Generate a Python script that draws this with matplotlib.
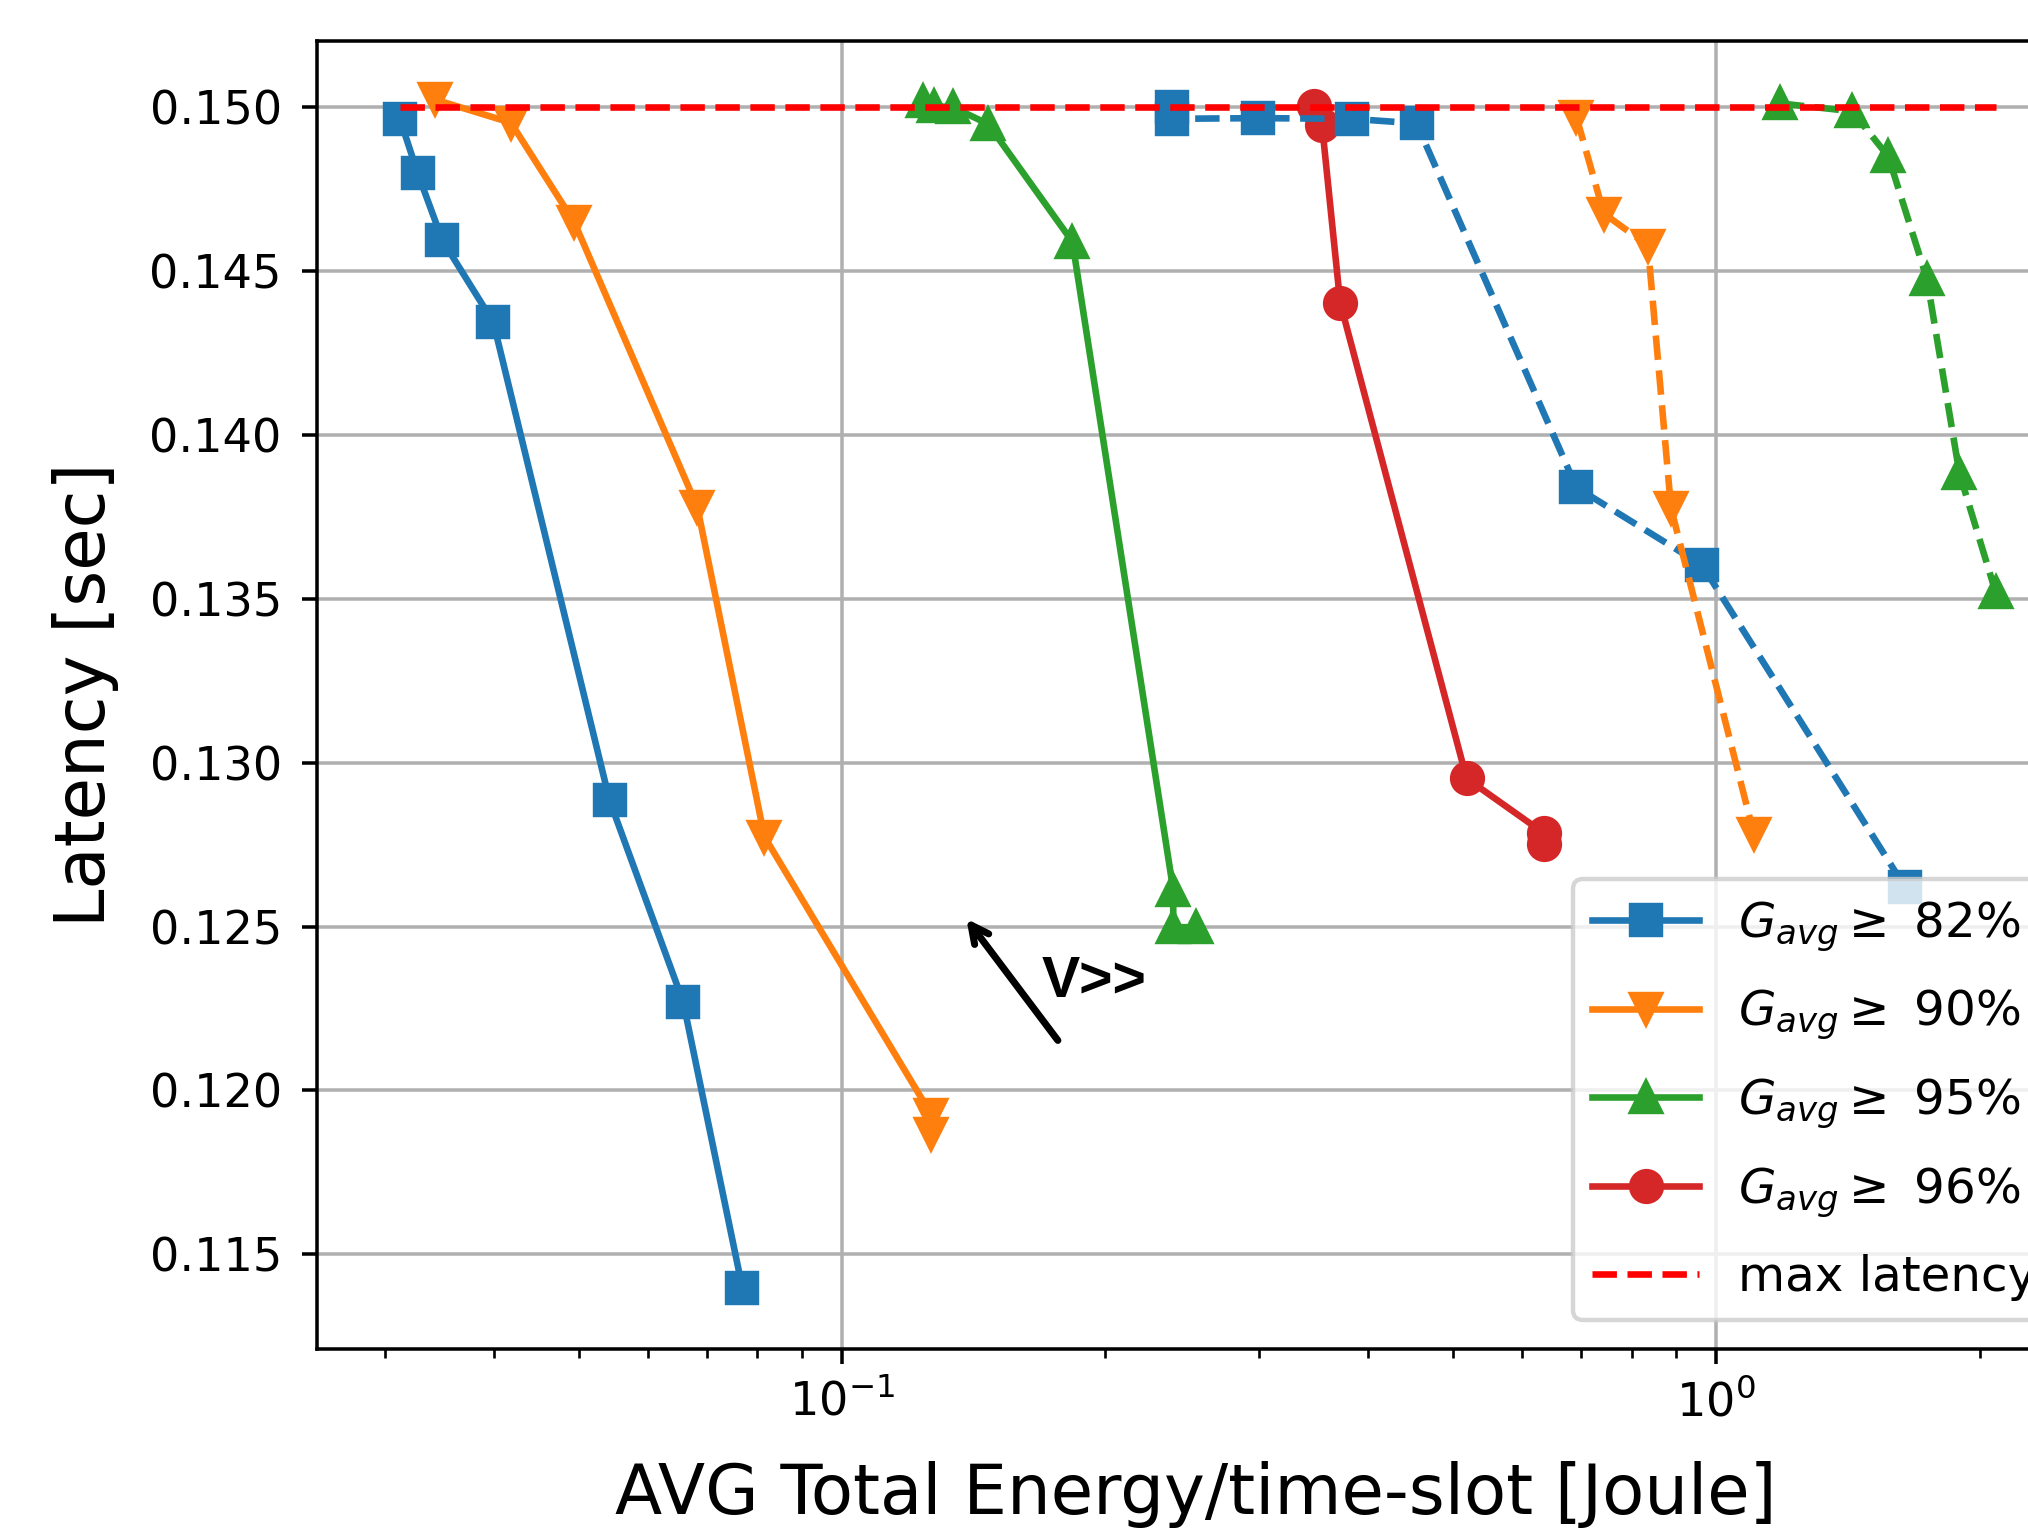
import matplotlib
matplotlib.use("Agg")
from matplotlib import pyplot as plt

# solid curves
e82 = [0.0312, 0.0327, 0.0349, 0.0399, 0.0542, 0.0658, 0.0769]
l82 = [0.14965, 0.14799, 0.14594, 0.14345, 0.12885, 0.12270, 0.11397]
e90 = [0.0342, 0.0418, 0.0494, 0.0683, 0.0815, 0.1265, 0.1265]
l90 = [0.15024, 0.14953, 0.14649, 0.13780, 0.12774, 0.11926, 0.11867]
e95 = [0.1236, 0.1274, 0.1340, 0.1469, 0.1834, 0.2392, 0.2392, 0.2540]
l95 = [0.15020, 0.15004, 0.15000, 0.14949, 0.14590, 0.12612, 0.12498, 0.12498]
e96 = [0.3467, 0.3540, 0.3713, 0.5180, 0.6357, 0.6357]
l96 = [0.15004, 0.14945, 0.14404, 0.12952, 0.12784, 0.12752]

# dashed curves
e82d = [0.2382, 0.2382, 0.2992, 0.3827, 0.4540, 0.6918, 0.9630, 1.644]
l82d = [0.15000, 0.14965, 0.14967, 0.14965, 0.14951, 0.13840, 0.13603, 0.12620]
e90d = [0.6918, 0.7436, 0.8350, 0.8875, 1.104]
l90d = [0.14970, 0.14676, 0.14578, 0.13777, 0.12782]
e95d = [1.182, 1.430, 1.573, 1.742, 1.897, 2.087]
l95d = [0.15012, 0.14988, 0.14850, 0.14475, 0.13883, 0.13520]

max_latency = 0.150
yticks = [0.115, 0.120, 0.125, 0.130, 0.135, 0.140, 0.145, 0.150]

fig = plt.figure(figsize=(6.4, 1536 / 316.875), dpi=316.875)
ax = fig.add_axes([0.1563, 0.1218, 0.8671, 0.8512])

ax.plot(e82, l82, '-s', color='C0', markersize=7, label=r'$G_{avg}\geq$ 82%')
ax.plot(e90, l90, '-v', color='C1', markersize=7, label=r'$G_{avg}\geq$ 90%')
ax.plot(e95, l95, '-^', color='C2', markersize=7, label=r'$G_{avg}\geq$ 95%')
ax.plot(e96, l96, '-o', color='C3', markersize=7, label=r'$G_{avg}\geq$ 96%')

ax.plot(e82d, l82d, '--s', color='C0', markersize=7)
ax.plot(e90d, l90d, '--v', color='C1', markersize=7)
ax.plot(e95d, l95d, '--^', color='C2', markersize=7)

all_e = e82 + e90 + e95 + e96 + e82d + e90d + e95d
ax.plot([min(all_e), max(all_e)], [max_latency, max_latency], 'r--', label='max latency')

ax.set_xscale('log')
ax.set_xlim(0.02508, 2.575)
ax.set_ylim(0.11211, 0.15201)
ax.set_yticks(yticks)
ax.grid(True)

ax.annotate('', xy=(0.1368, 0.12545), xytext=(0.179, 0.12131),
            arrowprops=dict(arrowstyle='->', color='k', lw=1.6))
ax.text(0.169, 0.1233, 'V>>', fontsize=13, fontweight='bold',
        family='Liberation Sans', va='center', ha='left')

ax.tick_params(labelsize=10.5)
ax.tick_params(axis='y', pad=4.5)
ax.set_xlabel('AVG Total Energy/time-slot [Joule]', fontsize=15.7, labelpad=8)
ax.set_ylabel('Latency [sec]', fontsize=15.7, labelpad=7)
ax.legend(loc='lower left', bbox_to_anchor=(0.7143, 0.0222), borderaxespad=0,
          fontsize=11, labelspacing=0.7, handlelength=2.2)

fig.savefig('out.png', dpi=316.875)
